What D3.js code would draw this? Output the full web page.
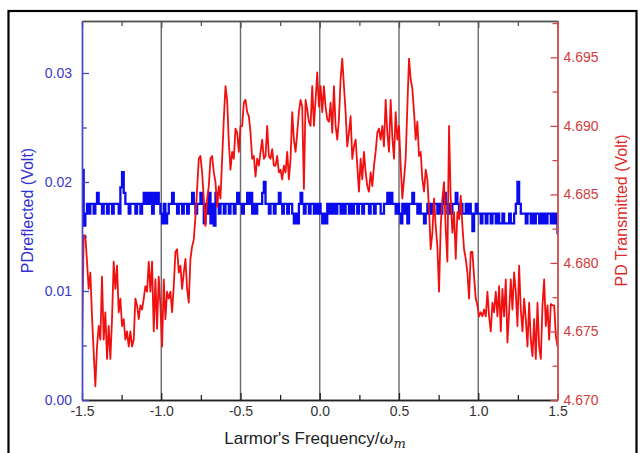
<!DOCTYPE html>
<html>
<head>
<meta charset="utf-8">
<script src="https://cdn.jsdelivr.net/npm/d3@7/dist/d3.min.js"></script>
<style>
  html, body { margin: 0; padding: 0; background: #fff; }
  svg { display: block; }
  text { font-family: "Liberation Sans", Arial, sans-serif; }
</style>
</head>
<body>
<svg id="chart" width="640" height="453"></svg>
<script>
// Frequency sweep end points (units of the mechanical frequency ω_m)
const sweepRange = [-1.5, 1.5];

// Photodiode signal on reflection (V), one sample per sweep step
const pdReflected = [
  0.0211, 0.0160, 0.0171, 0.0180, 0.0171, 0.0180, 0.0180, 0.0171, 0.0180, 0.0190,
  0.0180, 0.0180, 0.0171, 0.0180, 0.0180, 0.0171, 0.0180, 0.0180, 0.0171, 0.0180,
  0.0180, 0.0180, 0.0171, 0.0195, 0.0209, 0.0190, 0.0180, 0.0180, 0.0171, 0.0180,
  0.0180, 0.0180, 0.0171, 0.0180, 0.0180, 0.0171, 0.0180, 0.0190, 0.0180, 0.0190,
  0.0180, 0.0190, 0.0171, 0.0190, 0.0180, 0.0190, 0.0180, 0.0171, 0.0162, 0.0180,
  0.0162, 0.0171, 0.0180, 0.0180, 0.0190, 0.0180, 0.0180, 0.0171, 0.0180, 0.0180,
  0.0171, 0.0180, 0.0180, 0.0171, 0.0180, 0.0180, 0.0190, 0.0180, 0.0171, 0.0180,
  0.0180, 0.0190, 0.0180, 0.0162, 0.0180, 0.0171, 0.0190, 0.0162, 0.0180, 0.0160,
  0.0190, 0.0180, 0.0171, 0.0180, 0.0180, 0.0171, 0.0180, 0.0180, 0.0171, 0.0180,
  0.0180, 0.0171, 0.0180, 0.0190, 0.0180, 0.0180, 0.0171, 0.0180, 0.0180, 0.0190,
  0.0180, 0.0190, 0.0171, 0.0180, 0.0171, 0.0180, 0.0180, 0.0180, 0.0190, 0.0200,
  0.0180, 0.0180, 0.0171, 0.0180, 0.0180, 0.0171, 0.0180, 0.0180, 0.0190, 0.0180,
  0.0171, 0.0180, 0.0180, 0.0171, 0.0180, 0.0180, 0.0171, 0.0162, 0.0171, 0.0162,
  0.0180, 0.0190, 0.0180, 0.0171, 0.0180, 0.0180, 0.0171, 0.0180, 0.0180, 0.0171,
  0.0180, 0.0171, 0.0180, 0.0171, 0.0162, 0.0171, 0.0162, 0.0180, 0.0171, 0.0180,
  0.0171, 0.0180, 0.0171, 0.0180, 0.0180, 0.0171, 0.0180, 0.0171, 0.0180, 0.0180,
  0.0171, 0.0180, 0.0171, 0.0180, 0.0180, 0.0171, 0.0180, 0.0180, 0.0171, 0.0180,
  0.0180, 0.0180, 0.0171, 0.0180, 0.0180, 0.0171, 0.0180, 0.0180, 0.0180, 0.0171,
  0.0171, 0.0180, 0.0180, 0.0190, 0.0180, 0.0190, 0.0180, 0.0180, 0.0171, 0.0180,
  0.0171, 0.0162, 0.0180, 0.0171, 0.0180, 0.0162, 0.0180, 0.0180, 0.0190, 0.0180,
  0.0180, 0.0171, 0.0180, 0.0171, 0.0171, 0.0162, 0.0171, 0.0180, 0.0171, 0.0180,
  0.0171, 0.0180, 0.0180, 0.0171, 0.0180, 0.0171, 0.0180, 0.0190, 0.0180, 0.0171,
  0.0180, 0.0171, 0.0180, 0.0180, 0.0190, 0.0180, 0.0171, 0.0180, 0.0171, 0.0171,
  0.0180, 0.0171, 0.0180, 0.0171, 0.0155, 0.0171, 0.0180, 0.0171, 0.0171, 0.0162,
  0.0171, 0.0171, 0.0162, 0.0171, 0.0171, 0.0162, 0.0171, 0.0171, 0.0162, 0.0171,
  0.0162, 0.0162, 0.0171, 0.0162, 0.0162, 0.0162, 0.0171, 0.0162, 0.0162, 0.0171,
  0.0180, 0.0200, 0.0180, 0.0171, 0.0171, 0.0171, 0.0162, 0.0171, 0.0171, 0.0162,
  0.0171, 0.0162, 0.0171, 0.0171, 0.0162, 0.0171, 0.0162, 0.0171, 0.0162, 0.0171,
  0.0171, 0.0162, 0.0171, 0.0162, 0.0171, 0.0152
];

// Photodiode signal on transmission (V), same sweep
const pdTransmitted = [
  4.6739, 4.6820, 4.6820, 4.6801, 4.6781, 4.6793, 4.6761, 4.6735, 4.6710, 4.6739,
  4.6754, 4.6744, 4.6790, 4.6744, 4.6764, 4.6730, 4.6754, 4.6730, 4.6759, 4.6801,
  4.6781, 4.6798, 4.6764, 4.6774, 4.6754, 4.6759, 4.6744, 4.6750, 4.6739, 4.6750,
  4.6739, 4.6744, 4.6774, 4.6769, 4.6759, 4.6769, 4.6766, 4.6774, 4.6783, 4.6779,
  4.6801, 4.6779, 4.6801, 4.6750, 4.6788, 4.6752, 4.6790, 4.6769, 4.6739, 4.6788,
  4.6759, 4.6779, 4.6774, 4.6779, 4.6764, 4.6783, 4.6808, 4.6810, 4.6793, 4.6798,
  4.6781, 4.6793, 4.6803, 4.6781, 4.6771, 4.6803, 4.6812, 4.6817, 4.6834, 4.6854,
  4.6876, 4.6878, 4.6866, 4.6847, 4.6827, 4.6847, 4.6856, 4.6876, 4.6878, 4.6866,
  4.6859, 4.6841, 4.6856, 4.6847, 4.6876, 4.6905, 4.6929, 4.6919, 4.6888, 4.6868,
  4.6881, 4.6876, 4.6898, 4.6895, 4.6881, 4.6900, 4.6900, 4.6917, 4.6919, 4.6910,
  4.6907, 4.6895, 4.6876, 4.6878, 4.6863, 4.6876, 4.6871, 4.6881, 4.6890, 4.6876,
  4.6878, 4.6900, 4.6878, 4.6876, 4.6883, 4.6871, 4.6871, 4.6878, 4.6866, 4.6868,
  4.6861, 4.6871, 4.6866, 4.6881, 4.6861, 4.6876, 4.6910, 4.6890, 4.6881, 4.6895,
  4.6910, 4.6919, 4.6914, 4.6854, 4.6919, 4.6912, 4.6903, 4.6900, 4.6929, 4.6900,
  4.6919, 4.6939, 4.6914, 4.6929, 4.6910, 4.6929, 4.6914, 4.6905, 4.6903, 4.6917,
  4.6895, 4.6929, 4.6900, 4.6890, 4.6905, 4.6934, 4.6949, 4.6929, 4.6910, 4.6885,
  4.6895, 4.6907, 4.6876, 4.6885, 4.6890, 4.6871, 4.6852, 4.6876, 4.6861, 4.6881,
  4.6866, 4.6856, 4.6852, 4.6866, 4.6856, 4.6871, 4.6881, 4.6895, 4.6898, 4.6890,
  4.6900, 4.6885, 4.6919, 4.6895, 4.6881, 4.6919, 4.6892, 4.6876, 4.6910, 4.6890,
  4.6900, 4.6871, 4.6847, 4.6861, 4.6876, 4.6914, 4.6949, 4.6934, 4.6927, 4.6910,
  4.6890, 4.6903, 4.6878, 4.6881, 4.6861, 4.6852, 4.6868, 4.6861, 4.6839, 4.6810,
  4.6822, 4.6847, 4.6827, 4.6812, 4.6779, 4.6827, 4.6847, 4.6859, 4.6825, 4.6801,
  4.6900, 4.6847, 4.6822, 4.6837, 4.6803, 4.6837, 4.6832, 4.6849, 4.6827, 4.6810,
  4.6803, 4.6793, 4.6774, 4.6808, 4.6808, 4.6790, 4.6774, 4.6769, 4.6761, 4.6764,
  4.6761, 4.6766, 4.6761, 4.6779, 4.6761, 4.6750, 4.6771, 4.6764, 4.6779, 4.6761,
  4.6783, 4.6750, 4.6781, 4.6761, 4.6788, 4.6742, 4.6764, 4.6788, 4.6766, 4.6793,
  4.6779, 4.6754, 4.6798, 4.6766, 4.6750, 4.6774, 4.6759, 4.6739, 4.6771, 4.6744,
  4.6732, 4.6759, 4.6730, 4.6771, 4.6739, 4.6730, 4.6769, 4.6788, 4.6754, 4.6769,
  4.6744, 4.6770, 4.6769, 4.6769, 4.6747, 4.6739
];

// Tick positions and labels
const xMajorTicks = [-1.5, -1.0, -0.5, 0.0, 0.5, 1.0, 1.5];
const xMinorTicks = [-1.25, -0.75, -0.25, 0.25, 0.75, 1.25];
const xGridTicks  = [-1.0, -0.5, 0.0, 0.5, 1.0];
const leftMajorTicks = [0.00, 0.01, 0.02, 0.03];
const leftMinorTicks = [0.005, 0.015, 0.025];
const rightMajorTicks = [4.670, 4.675, 4.680, 4.685, 4.690, 4.695];
const rightMinorTicks = [4.6725, 4.6775, 4.6825, 4.6875, 4.6925, 4.6975];
const leftDomain = [0, 0.03477];
const rightDomain = [4.670, 4.69765];

const xTitle = "Larmor's Frequency/";
const leftTitle = "PDreflected (Volt)";
const rightTitle = "PD Transmitted (Volt)";

// ---- layout ----
const plot = { left: 82, right: 557.5, top: 21, bottom: 400 };
const svg = d3.select("#chart");

const x = d3.scaleLinear().domain([-1.5, 1.5]).range([plot.left, plot.right]);
const yL = d3.scaleLinear().domain(leftDomain).range([plot.bottom, plot.top]);
const yR = d3.scaleLinear().domain(rightDomain).range([plot.bottom, plot.top]);

// sample index -> sweep frequency
const sweep = d3.scaleLinear().domain([0, pdTransmitted.length - 1]).range(sweepRange);

const colBlueAxis = "#4646c8";
const colBlueText = "#3a3ac4";
const colRedAxis = "#cf4b4b";
const colRedText = "#d23c3c";

// outer frame
svg.append("rect")
  .attr("x", 8.5).attr("y", 11).attr("width", 628).attr("height", 460)
  .attr("fill", "none").attr("stroke", "#000").attr("stroke-width", 2.2);

// clip for traces
svg.append("defs").append("clipPath").attr("id", "plotClip")
  .append("rect")
  .attr("x", plot.left).attr("y", plot.top)
  .attr("width", plot.right - plot.left).attr("height", plot.bottom - plot.top);

// vertical grid lines
svg.append("g").selectAll("line").data(xGridTicks).join("line")
  .attr("x1", d => x(d)).attr("x2", d => x(d))
  .attr("y1", plot.top).attr("y2", plot.bottom)
  .attr("stroke", "#6a6a6a").attr("stroke-width", 1.4);

// traces
const traces = svg.append("g").attr("clip-path", "url(#plotClip)");

const blueLine = d3.line()
  .x((d, i) => x(sweep(i)))
  .y(d => yL(d))
  .curve(d3.curveStepAfter);

const redLine = d3.line()
  .x((d, i) => x(sweep(i)))
  .y(d => yR(d));

traces.append("path")
  .datum(pdReflected)
  .attr("d", blueLine)
  .attr("fill", "none").attr("stroke", "#0a0aef").attr("stroke-width", 2.3)
  .attr("stroke-linejoin", "miter");

traces.append("path")
  .datum(pdTransmitted)
  .attr("d", redLine)
  .attr("fill", "none").attr("stroke", "#f01010").attr("stroke-width", 1.8)
  .attr("stroke-linejoin", "round");

// ---- axes ----
function styleAxis(g, color, textColor) {
  g.select(".domain").attr("stroke", color).attr("stroke-width", 1.4);
  g.selectAll(".tick line").attr("stroke", color).attr("stroke-width", 1.3);
  g.selectAll(".tick text").attr("fill", textColor)
    .style("font-family", "'Liberation Sans', Arial, sans-serif")
    .style("font-size", "14px");
}

// bottom
const gBottom = svg.append("g").attr("transform", `translate(0,${plot.bottom})`)
  .call(d3.axisBottom(x).tickValues(xMajorTicks).tickSize(-7).tickSizeOuter(0)
    .tickPadding(6).tickFormat(d3.format(".1f")));
styleAxis(gBottom, "#222", "#333");
gBottom.selectAll(".tick text").text(d => d3.format(".1f")(d).replace("\u2212", "-"));
svg.append("g").attr("transform", `translate(0,${plot.bottom})`)
  .call(d3.axisBottom(x).tickValues(xMinorTicks).tickSize(-5).tickSizeOuter(0).tickFormat(""))
  .call(g => styleAxis(g, "#222", "#333"));

// top
svg.append("g").attr("transform", `translate(0,${plot.top})`)
  .call(d3.axisTop(x).tickValues(xMajorTicks).tickSize(-7).tickSizeOuter(0).tickFormat(""))
  .call(g => styleAxis(g, "#555", "#333"));
svg.append("g").attr("transform", `translate(0,${plot.top})`)
  .call(d3.axisTop(x).tickValues(xMinorTicks).tickSize(-5).tickSizeOuter(0).tickFormat(""))
  .call(g => styleAxis(g, "#555", "#333"));

// left (reflected)
svg.append("g").attr("transform", `translate(${plot.left},0)`)
  .call(d3.axisLeft(yL).tickValues(leftMajorTicks).tickSize(-7).tickSizeOuter(0)
    .tickPadding(10).tickFormat(d3.format(".2f")))
  .call(g => styleAxis(g, colBlueAxis, colBlueText));
svg.append("g").attr("transform", `translate(${plot.left},0)`)
  .call(d3.axisLeft(yL).tickValues(leftMinorTicks).tickSize(-5).tickSizeOuter(0).tickFormat(""))
  .call(g => styleAxis(g, colBlueAxis, colBlueText));

// right (transmitted)
svg.append("g").attr("transform", `translate(${plot.right},0)`)
  .call(d3.axisRight(yR).tickValues(rightMajorTicks).tickSize(-7).tickSizeOuter(0)
    .tickPadding(6).tickFormat(d3.format(".3f")))
  .call(g => styleAxis(g, colRedAxis, colRedText));
svg.append("g").attr("transform", `translate(${plot.right},0)`)
  .call(d3.axisRight(yR).tickValues(rightMinorTicks).tickSize(-5).tickSizeOuter(0).tickFormat(""))
  .call(g => styleAxis(g, colRedAxis, colRedText));

// ---- titles ----
const midY = (plot.top + plot.bottom) / 2;

svg.append("text")
  .attr("transform", `translate(33,${midY}) rotate(-90)`)
  .attr("text-anchor", "middle")
  .attr("fill", "#2f2fd2")
  .style("font-size", "16px")
  .text(leftTitle);

svg.append("text")
  .attr("transform", `translate(627,${midY}) rotate(-90)`)
  .attr("text-anchor", "middle")
  .attr("fill", "#e02a2a")
  .style("font-size", "16px")
  .text(rightTitle);

const xt = svg.append("text")
  .attr("x", 315).attr("y", 444)
  .attr("text-anchor", "middle")
  .attr("fill", "#222")
  .style("font-size", "17px");
xt.append("tspan").text(xTitle);
xt.append("tspan")
  .style("font-family", "'DejaVu Serif', 'Liberation Serif', serif")
  .style("font-style", "italic")
  .style("font-size", "17px")
  .text("\u03c9");
xt.append("tspan")
  .attr("dy", 4)
  .style("font-family", "'DejaVu Serif', 'Liberation Serif', serif")
  .style("font-style", "italic")
  .style("font-size", "13px")
  .text("m");
</script>
</body>
</html>
